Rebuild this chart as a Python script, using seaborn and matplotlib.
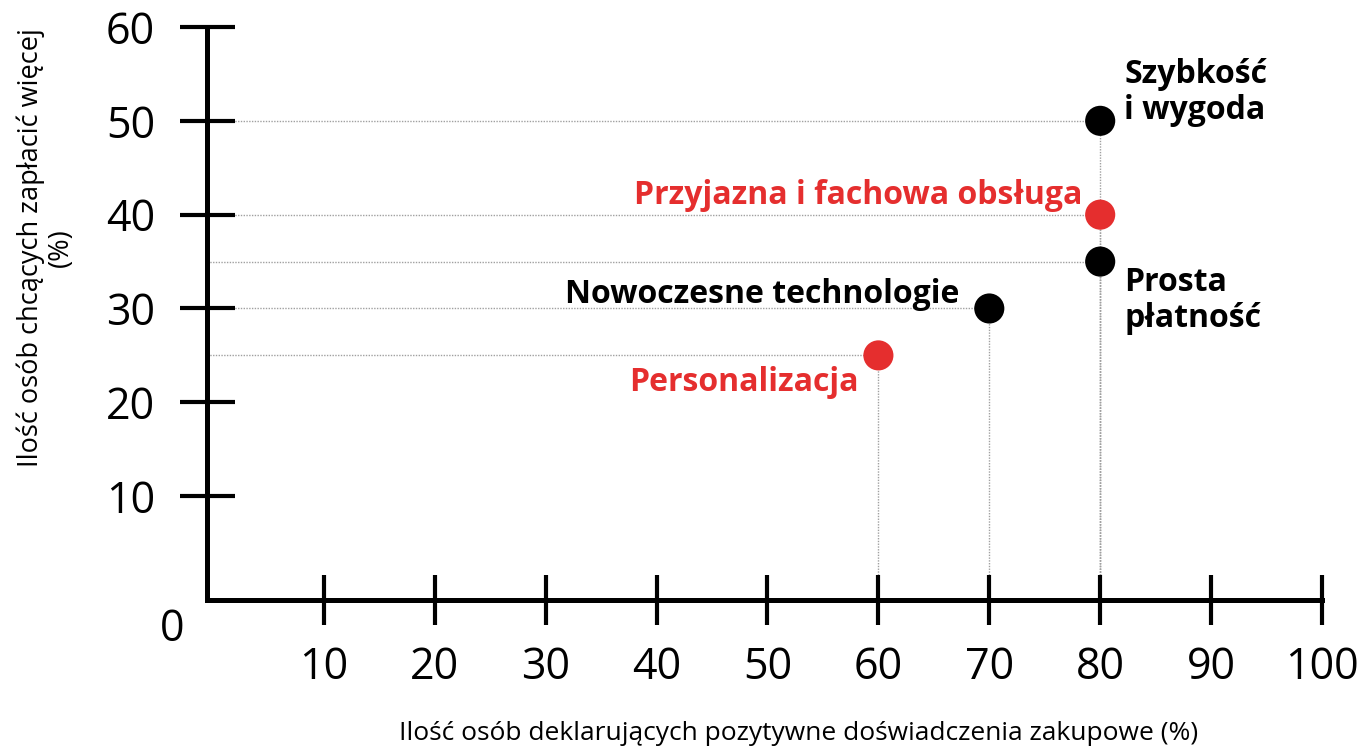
import matplotlib
matplotlib.use("Agg")
import matplotlib.pyplot as plt
import seaborn as sns
import pandas as pd

labels = ["Personalizacja", "Nowoczesne technologie", "Prosta\npłatność",
          "Przyjazna i fachowa obsługa", "Szybkość\ni wygoda"]
x_vals = [60, 70, 80, 80, 80]
y_vals = [25, 30, 35, 40, 50]
groups = ["red", "black", "black", "red", "black"]
x_ticks = [10, 20, 30, 40, 50, 60, 70, 80, 90, 100]
y_ticks = [10, 20, 30, 40, 50, 60]
x_title = "Ilość osób deklarujących pozytywne doświadczenia zakupowe (%)"
y_title = "Ilość osób chcących zapłacić więcej\n(%)"

RED = "#e52e2e"
BLACK = "#000000"

sns.set_theme(style="white")
plt.rcParams['font.family'] = ['Open Sans', 'DejaVu Sans']
plt.rcParams['text.color'] = 'black'

df = pd.DataFrame({"x": x_vals, "y": y_vals, "g": groups, "label": labels})

fig = plt.figure(figsize=(13.65, 7.5), dpi=100)
ax = fig.add_axes([207/1365, 150/750, (1322-207)/1365, (600-27)/750])
ax.set_axisbelow(False)

XMIN, YMIN = -0.54, -1.07
ax.set_xlim(XMIN, 100)
ax.set_ylim(YMIN, 60)

# dotted guide lines
for xv, yv in zip(x_vals, y_vals):
    ax.plot([XMIN, xv], [yv, yv], color="#a0a0a0", lw=1, ls=(0, (1, 1)), zorder=1)
    ax.plot([xv, xv], [YMIN, yv], color="#a0a0a0", lw=1, ls=(0, (1, 1)), zorder=1)

sns.scatterplot(data=df, x="x", y="y", hue="g", palette={"red": RED, "black": BLACK},
                s=470, edgecolor="none", legend=False, ax=ax, zorder=3)

for sp in ["top", "right"]:
    ax.spines[sp].set_visible(False)
for sp in ["left", "bottom"]:
    ax.spines[sp].set_linewidth(3.6)
    ax.spines[sp].set_color("black")
    ax.spines[sp].set_zorder(2.5)

ax.set_xticks(x_ticks)
ax.set_yticks(y_ticks)
ax.set_xticklabels([str(v) for v in x_ticks])
ax.set_yticklabels([str(v) for v in y_ticks])
ax.tick_params(axis="y", direction="inout", length=39.6, width=3, pad=17.5,
               labelsize=31, colors="black", left=True)
ax.tick_params(axis="x", direction="inout", length=35.3, width=3, pad=15,
               labelsize=31, colors="black", bottom=True)
ax.set_xlabel("")
ax.set_ylabel("")

ax.annotate("0", xy=(0, 0), xytext=(-29.5, -29), textcoords="offset points",
            ha="center", va="center", fontsize=31, color="black", annotation_clip=False)

# point labels
fs = 23
ann = {
    "Szybkość\ni wygoda": dict(xytext=(17.3, -4.3), ha="left", va="bottom", color=BLACK),
    "Przyjazna i fachowa obsługa": dict(xytext=(-13, 8), ha="right", va="baseline", color=RED),
    "Prosta\npłatność": dict(xytext=(17.3, -3.0), ha="left", va="top", color=BLACK),
    "Nowoczesne technologie": dict(xytext=(-21.6, 3.6), ha="right", va="baseline", color=BLACK),
    "Personalizacja": dict(xytext=(-14.4, -25.5), ha="right", va="baseline", color=RED),
}
for xv, yv, lab in zip(x_vals, y_vals, labels):
    a = ann[lab]
    ax.annotate(lab, xy=(xv, yv), xytext=a["xytext"], textcoords="offset points",
                ha=a["ha"], va=a["va"], color=a["color"], fontsize=fs,
                fontweight="bold", linespacing=1.12)

fig.text(799/1365, 1 - 733/750, x_title, ha="center", va="center", fontsize=19,
         color="black")
fig.text(46/1365, 1 - 248/750, y_title, ha="center", va="center", fontsize=19.5,
         rotation=90, linespacing=1.1, color="black")

fig.savefig("out.png", dpi=100, facecolor="white")
